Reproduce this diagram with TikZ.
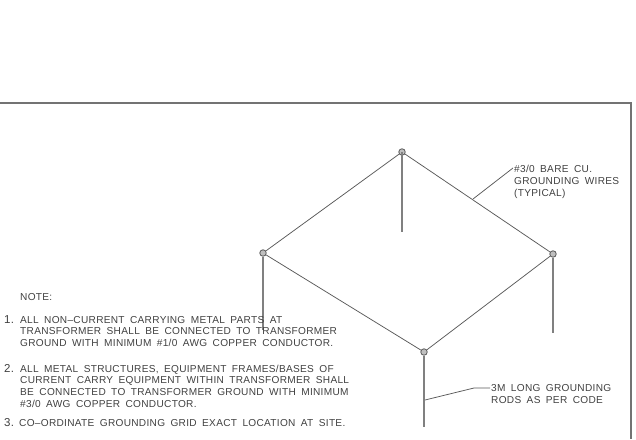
\documentclass[tikz,border=0pt]{standalone}
\usepackage{fontspec}
\setmainfont[LetterSpace=3,WordSpace=1.75]{Liberation Sans}
\definecolor{cadtext}{gray}{0.25}
\definecolor{cadline}{gray}{0.35}
\tikzset{
  x=1pt,y=-1pt,
  notetext/.style={anchor=west,inner sep=0pt,align=left,text=cadtext,font=\fontsize{10.1}{11.7}\selectfont},
  numtext/.style={anchor=west,inner sep=0pt,text=cadtext,font=\fontsize{11.5}{12}\selectfont},
  wire/.style={draw=cadline,line width=0.75pt},
  rod/.style={draw=gray,line width=1.2pt},
  leaderline/.style={draw=cadline,line width=0.75pt},
  frameline/.style={draw=gray!90!black,line width=1.05pt},
  junction/.style={circle,draw=cadline,fill=gray!50,line width=0.8pt,inner sep=0pt,minimum size=6.5pt},
}
\begin{document}
\begin{tikzpicture}
\useasboundingbox (0,0) rectangle (636,439);
\draw[frameline] (0,103) -- (631,103) -- (631,439);
\coordinate (rt) at (402,232);
\coordinate (rl) at (263,330);
\coordinate (rr) at (553,333);
\coordinate (rb) at (424,427);
\node[junction] (t) at (402,152) {};
\node[junction] (l) at (263,253) {};
\node[junction] (r) at (553,254) {};
\node[junction] (b) at (424,352) {};
\draw[wire] (t) -- (r) -- (b) -- (l) -- (t);
\draw[rod] (t.center) -- (rt);
\draw[rod] (l.south) -- (rl);
\draw[rod] (r.south) -- (rr);
\draw[rod] (b.south) -- (rb);
\node[notetext] (n0) at (20,297) {NOTE:};
\node[numtext] (k1) at (4,320) {1.};
\node[notetext] (n1) at (20,331.5) {ALL NON--CURRENT CARRYING METAL PARTS AT\\TRANSFORMER SHALL BE CONNECTED TO TRANSFORMER\\GROUND WITH MINIMUM \#1/0 AWG COPPER CONDUCTOR.};
\node[numtext] (k2) at (4,368) {2.};
\node[notetext] (n2) at (20,386) {ALL METAL STRUCTURES, EQUIPMENT FRAMES/BASES OF\\CURRENT CARRY EQUIPMENT WITHIN TRANSFORMER SHALL\\BE CONNECTED TO TRANSFORMER GROUND WITH MINIMUM\\\#3/0 AWG COPPER CONDUCTOR.};
\node[numtext] (k3) at (4,423) {3.};
\node[notetext] (n3) at (19,423) {CO--ORDINATE GROUNDING GRID EXACT LOCATION AT SITE.};
\node[notetext] (w) at (514,182) {\#3/0 BARE CU.\\GROUNDING WIRES\\(TYPICAL)};
\node[notetext] (g) at (491,394) {3M LONG GROUNDING\\RODS AS PER CODE};
\coordinate (wa) at (473,199);
\coordinate (wb) at (513,168);
\draw[leaderline] (wa) -- (wb);
\coordinate (ga) at (425,400);
\coordinate (gb) at (474,388);
\coordinate (gc) at (490,388);
\draw[leaderline] (ga) -- (gb) -- (gc);
\end{tikzpicture}
\end{document}
